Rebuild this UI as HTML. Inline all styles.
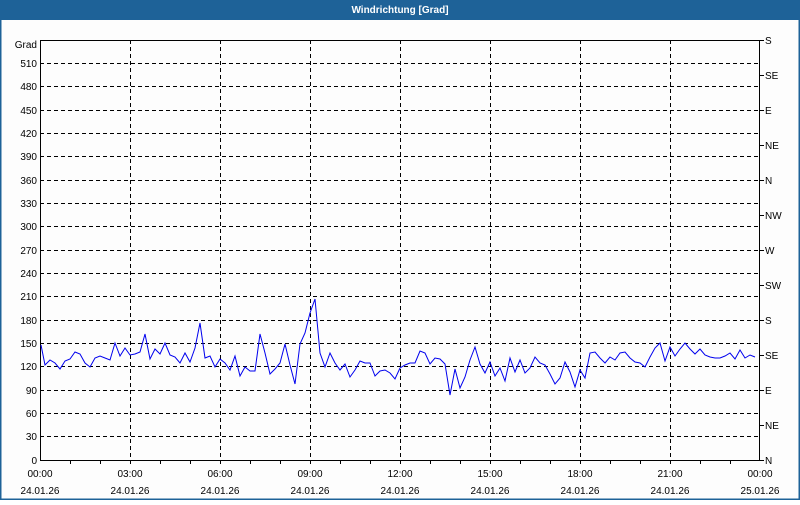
<!DOCTYPE html>
<html><head><meta charset="utf-8"><style>
body{margin:0;width:800px;height:500px;overflow:hidden;background:#fff;font-family:"Liberation Sans",sans-serif}
</style></head><body>
<svg width="800" height="500" xmlns="http://www.w3.org/2000/svg" font-family="Liberation Sans, sans-serif" font-size="10">
<rect x="0" y="0" width="800" height="500" fill="#fdfdfd"/>
<rect x="0.5" y="0.5" width="799" height="499" fill="none" stroke="#1e6298" stroke-width="2"/>
<rect x="0" y="0" width="800" height="20" fill="#1e6298"/>
<text x="400" y="13" fill="#fff" font-weight="bold" text-anchor="middle" font-size="10">Windrichtung [Grad]</text>
<g stroke="#000" stroke-dasharray="4,3" stroke-width="1">
<line x1="40" x2="760" y1="63.5" y2="63.5"/><line x1="40" x2="760" y1="86.5" y2="86.5"/><line x1="40" x2="760" y1="110.5" y2="110.5"/><line x1="40" x2="760" y1="133.5" y2="133.5"/><line x1="40" x2="760" y1="156.5" y2="156.5"/><line x1="40" x2="760" y1="180.5" y2="180.5"/><line x1="40" x2="760" y1="203.5" y2="203.5"/><line x1="40" x2="760" y1="226.5" y2="226.5"/><line x1="40" x2="760" y1="250.5" y2="250.5"/><line x1="40" x2="760" y1="273.5" y2="273.5"/><line x1="40" x2="760" y1="296.5" y2="296.5"/><line x1="40" x2="760" y1="320.5" y2="320.5"/><line x1="40" x2="760" y1="343.5" y2="343.5"/><line x1="40" x2="760" y1="366.5" y2="366.5"/><line x1="40" x2="760" y1="390.5" y2="390.5"/><line x1="40" x2="760" y1="413.5" y2="413.5"/><line x1="40" x2="760" y1="436.5" y2="436.5"/>
<line y1="40" y2="460" x1="130.5" x2="130.5"/><line y1="40" y2="460" x1="220.5" x2="220.5"/><line y1="40" y2="460" x1="310.5" x2="310.5"/><line y1="40" y2="460" x1="400.5" x2="400.5"/><line y1="40" y2="460" x1="490.5" x2="490.5"/><line y1="40" y2="460" x1="580.5" x2="580.5"/><line y1="40" y2="460" x1="670.5" x2="670.5"/>
</g>
<g stroke="#000" stroke-width="1" fill="none">
<line x1="40.5" y1="40" x2="40.5" y2="461"/><line x1="40" y1="40.5" x2="760" y2="40.5"/><line x1="759.5" y1="40" x2="759.5" y2="461"/><line x1="40" y1="460.5" x2="760" y2="460.5"/>
<path d="M70.5 460v4M100.5 460v4M130.5 460v4M160.5 460v4M190.5 460v4M220.5 460v4M250.5 460v4M280.5 460v4M310.5 460v4M340.5 460v4M370.5 460v4M400.5 460v4M430.5 460v4M460.5 460v4M490.5 460v4M520.5 460v4M550.5 460v4M580.5 460v4M610.5 460v4M640.5 460v4M670.5 460v4M700.5 460v4M730.5 460v4"/>
<path d="M760 40.5h4M760 75.5h4M760 110.5h4M760 145.5h4M760 180.5h4M760 215.5h4M760 250.5h4M760 285.5h4M760 320.5h4M760 355.5h4M760 390.5h4M760 425.5h4M760 460.5h4"/>
</g>
<g text-anchor="end" fill="#000">
<text x="37" y="48">Grad</text><text x="37" y="67">510</text><text x="37" y="90">480</text><text x="37" y="114">450</text><text x="37" y="137">420</text><text x="37" y="160">390</text><text x="37" y="184">360</text><text x="37" y="207">330</text><text x="37" y="230">300</text><text x="37" y="254">270</text><text x="37" y="277">240</text><text x="37" y="300">210</text><text x="37" y="324">180</text><text x="37" y="347">150</text><text x="37" y="370">120</text><text x="37" y="394">90</text><text x="37" y="417">60</text><text x="37" y="440">30</text><text x="37" y="464">0</text>
</g>
<g fill="#000">
<text x="765" y="44">S</text><text x="765" y="79">SE</text><text x="765" y="114">E</text><text x="765" y="149">NE</text><text x="765" y="184">N</text><text x="765" y="219">NW</text><text x="765" y="254">W</text><text x="765" y="289">SW</text><text x="765" y="324">S</text><text x="765" y="359">SE</text><text x="765" y="394">E</text><text x="765" y="429">NE</text><text x="765" y="464">N</text>
</g>
<g text-anchor="middle" fill="#000">
<text x="40" y="477">00:00</text><text x="40" y="494">24.01.26</text>
<text x="130" y="477">03:00</text><text x="130" y="494">24.01.26</text>
<text x="220" y="477">06:00</text><text x="220" y="494">24.01.26</text>
<text x="310" y="477">09:00</text><text x="310" y="494">24.01.26</text>
<text x="400" y="477">12:00</text><text x="400" y="494">24.01.26</text>
<text x="490" y="477">15:00</text><text x="490" y="494">24.01.26</text>
<text x="580" y="477">18:00</text><text x="580" y="494">24.01.26</text>
<text x="670" y="477">21:00</text><text x="670" y="494">24.01.26</text>
<text x="760" y="477">00:00</text><text x="760" y="494">25.01.26</text>
</g>
<polyline fill="none" stroke="#0000ee" stroke-width="1" points="41,345 45,365 50,360 55,363 60,369 65,361 70,359 75,352 80,354 85,363 90,367 95,358 100,356 105,358 110,360 115,343 120,356 125,348 130,355 135,354 140,352 145,334 150,359 155,349 160,354 165,343 170,355 175,357 180,363 185,353 190,362 195,348 200,323 205,358 210,356 215,367 220,359 225,363 230,370 235,356 240,376 245,367 250,371 255,371 260,334 265,353 270,374 275,369 280,363 285,344 290,365 295,384 300,344 305,333 310,313 315,299 320,353 325,367 330,353 335,363 340,370 345,364 350,377 355,370 360,361 365,363 370,363 375,376 380,371 385,370 390,373 395,379 400,368 405,365 410,363 415,363 420,351 425,353 430,364 435,358 440,359 445,364 450,395 455,369 460,388 465,377 470,360 475,347 480,364 485,373 490,362 495,376 500,368 505,381 510,358 515,372 520,360 525,373 530,368 535,357 540,363 545,365 550,374 555,384 560,378 565,362 570,372 575,387 580,370 585,378 590,353 595,352 600,358 605,363 610,357 615,360 620,353 625,352 630,358 635,362 640,363 645,367 650,357 655,348 660,343 665,361 670,347 675,356 680,349 685,343 690,349 695,354 700,349 705,355 710,357 715,358 720,358 725,356 730,353 735,359 740,350 745,358 750,355 755,357"/>
</svg>
</body></html>
